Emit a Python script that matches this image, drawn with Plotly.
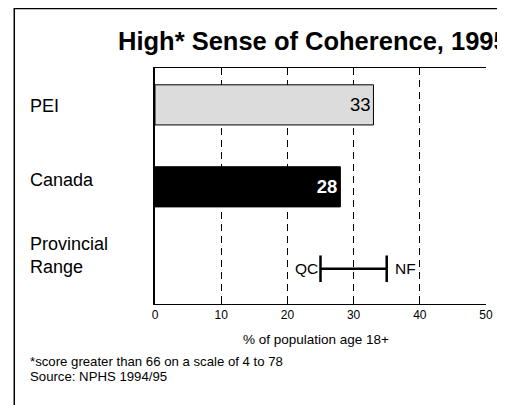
import plotly.graph_objects as go

# data
categories = ["PEI", "Canada", "Provincial Range"]
cat_labels = ["PEI", "Canada", "Provincial<br>Range"]
label_shift = [-1, 7, 13]
values = [33, 28, None]
value_text = ["33", "<b>28</b>", ""]
range_provs = ["QC", "NF"]
range_values = [25, 35]
x_ticks = [0, 10, 20, 30, 40, 50]

# the page body has an 8px margin, so the figure is drawn 8px in
OFF = 8
W, H = 497, 397
L, R, T, B = 147, 16, 60, 101
PW = W - L - R
PH = H - T - B
FONT = "Liberation Sans, Arial, sans-serif"


# page pixel -> paper coords
def px_x(p):
    return (p - OFF - L) / PW


def px_y(p):
    return 1 - (p - OFF - T) / PH


fig = go.Figure()

fig.add_trace(go.Bar(
    x=values, y=categories, orientation="h",
    width=0.49,
    marker=dict(color=["#dcdcdc", "#000000", "#ffffff"], line=dict(color="black", width=1)),
    text=value_text, textposition="inside", insidetextanchor="end",
    textangle=0, constraintext="none",
    insidetextfont=dict(family=FONT, size=18.5, color=["#000000", "#ffffff", "#000000"]),
    hoverinfo="skip",
))

# provincial range
fig.add_trace(go.Scatter(
    x=range_values, y=[categories[2]] * 2, mode="lines+markers",
    line=dict(color="black", width=2.5),
    marker=dict(symbol="line-ns", size=19, line=dict(color="black", width=2.5)),
    hoverinfo="skip",
))

annotations = []
annotations.append(dict(
    x=range_values[0], y=categories[2], xref="x", yref="y", text=range_provs[0],
    xanchor="right", xshift=-1, showarrow=False,
    font=dict(family=FONT, size=15.5, color="black"),
))
annotations.append(dict(
    x=range_values[1], y=categories[2], xref="x", yref="y", text=range_provs[1],
    xanchor="left", xshift=6, showarrow=False,
    font=dict(family=FONT, size=15.5, color="black"),
))

# category labels, left aligned
for c, lab, sh in zip(categories, cat_labels, label_shift):
    annotations.append(dict(
        x=px_x(27), y=c, xref="paper", yref="y", text=lab, align="left",
        xanchor="left", showarrow=False, yshift=sh,
        font=dict(family=FONT, size=18, color="black"),
    ))

annotations.append(dict(
    x=px_x(116), y=px_y(41), xref="paper", yref="paper",
    text="<b>High* Sense of Coherence, 1995</b>", xanchor="left", yanchor="middle",
    showarrow=False, font=dict(family=FONT, size=25.5, color="black"),
))
annotations.append(dict(
    x=px_x(317), y=px_y(339), xref="paper", yref="paper",
    text="% of population age 18+", xanchor="center", yanchor="middle",
    showarrow=False, font=dict(family=FONT, size=13.5, color="black"),
))
annotations.append(dict(
    x=px_x(27), y=px_y(361), xref="paper", yref="paper",
    text="*score greater than 66 on a scale of 4 to 78", xanchor="left", yanchor="middle",
    showarrow=False, font=dict(family=FONT, size=13.2, color="black"),
))
annotations.append(dict(
    x=px_x(27), y=px_y(376), xref="paper", yref="paper",
    text="Source: NPHS 1994/95", xanchor="left", yanchor="middle",
    showarrow=False, font=dict(family=FONT, size=13.2, color="black"),
))

# outer frame
shapes = [
    dict(type="rect", xref="paper", yref="paper",
         x0=px_x(13), x1=px_x(700), y0=px_y(8.5), y1=px_y(600),
         line=dict(color="black", width=1.5)),
]

fig.update_layout(
    width=W, height=H,
    margin=dict(l=L, r=R, t=T, b=B),
    paper_bgcolor="white", plot_bgcolor="white",
    showlegend=False,
    annotations=annotations,
    shapes=shapes,
    xaxis=dict(
        range=[0, 50], tickvals=x_ticks, ticks="inside", ticklen=5, tickcolor="black",
        showline=True, linecolor="black", linewidth=1, mirror=True,
        showgrid=True, gridcolor="black", gridwidth=1, griddash="7px,5px",
        zeroline=False, tickfont=dict(family=FONT, size=12, color="black"),
    ),
    yaxis=dict(
        type="category", categoryarray=categories, range=[2.43, -0.45],
        showticklabels=False, ticks="", showgrid=False, zeroline=False,
        showline=True, linecolor="black", linewidth=1.5,
    ),
)

fig.write_html("out.html")
